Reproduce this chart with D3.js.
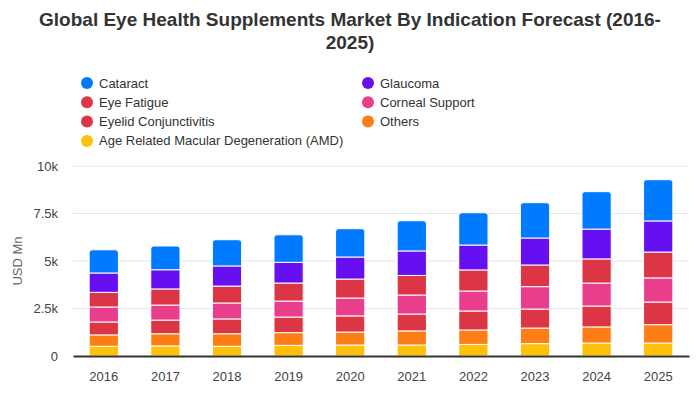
<!DOCTYPE html>
<html>
<head>
<meta charset="utf-8">
<script src="https://cdn.jsdelivr.net/npm/d3@7"></script>
<style>
  body { margin: 0; background: #fff; }
  svg { font-family: "Liberation Sans", Arial, sans-serif; }
</style>
</head>
<body>
<svg id="chart" width="700" height="400"></svg>
<script>
const years = ["2016","2017","2018","2019","2020","2021","2022","2023","2024","2025"];
// stacked bottom → top
const amd        = [0.51, 0.53, 0.51, 0.56, 0.58, 0.58, 0.61, 0.65, 0.68, 0.68];
const others     = [0.60, 0.64, 0.66, 0.67, 0.68, 0.74, 0.76, 0.82, 0.85, 0.97];
const eyelid     = [0.68, 0.72, 0.78, 0.82, 0.85, 0.89, 1.00, 1.00, 1.10, 1.19];
const corneal    = [0.79, 0.79, 0.84, 0.84, 0.94, 1.00, 1.05, 1.18, 1.21, 1.27];
const eyeFatigue = [0.77, 0.85, 0.89, 0.95, 1.00, 1.03, 1.11, 1.14, 1.27, 1.36];
const glaucoma   = [1.02, 1.01, 1.06, 1.09, 1.16, 1.29, 1.31, 1.42, 1.57, 1.64];
const cataract   = [1.22, 1.25, 1.38, 1.45, 1.49, 1.59, 1.70, 1.86, 1.97, 2.17];
const yTicks = [0, 2.5, 5, 7.5, 10];
const yTickLabels = ["0", "2.5k", "5k", "7.5k", "10k"];

const series = [
  {key: "amd", name: "Age Related Macular Degeneration (AMD)", color: "#ffc107", values: amd},
  {key: "others", name: "Others", color: "#fd7e14", values: others},
  {key: "eyelid", name: "Eyelid Conjunctivitis", color: "#dc3545", values: eyelid},
  {key: "corneal", name: "Corneal Support", color: "#e83e8c", values: corneal},
  {key: "eyeFatigue", name: "Eye Fatigue", color: "#dc3545", values: eyeFatigue},
  {key: "glaucoma", name: "Glaucoma", color: "#6610f2", values: glaucoma},
  {key: "cataract", name: "Cataract", color: "#007bff", values: cataract}
];
const legendOrder = [
  ["cataract", "glaucoma"],
  ["eyeFatigue", "corneal"],
  ["eyelid", "others"],
  ["amd"]
];

const svg = d3.select("#chart");
const margin = {left: 73, right: 11, top: 166, bottom: 44};
const W = 700, H = 400;

// Title
const title = svg.append("text").attr("x", 350).attr("text-anchor", "middle")
  .attr("font-size", 19).attr("font-weight", "bold").attr("fill", "#333");
title.append("tspan").attr("x", 350).attr("y", 26).text("Global Eye Health Supplements Market By Indication Forecast (2016-");
title.append("tspan").attr("x", 350).attr("y", 49).text("2025)");

// Legend
const byKey = Object.fromEntries(series.map(s => [s.key, s]));
const colX = [87, 368];
legendOrder.forEach((row, ri) => {
  row.forEach((k, ci) => {
    const s = byKey[k];
    const g = svg.append("g").attr("transform", `translate(${colX[ci]},${83 + ri * 19.3})`);
    g.append("circle").attr("r", 6).attr("fill", s.color);
    g.append("text").attr("x", 12).attr("y", 4.5).attr("font-size", 13).attr("fill", "#333").text(s.name);
  });
});

const x = d3.scaleBand().domain(years).range([margin.left, W - margin.right]).paddingInner(0.525).paddingOuter(0.2625);
const y = d3.scaleLinear().domain([0, 10]).range([H - margin.bottom, margin.top]);

// gridlines
svg.append("g").selectAll("line").data(yTicks.filter(d => d > 0)).join("line")
  .attr("x1", margin.left).attr("x2", W - margin.right)
  .attr("y1", d => y(d)).attr("y2", d => y(d))
  .attr("stroke", "#e6e6e6").attr("stroke-width", 1);

// y axis labels
const yAxis = d3.axisLeft(y).tickValues(yTicks).tickFormat((d, i) => yTickLabels[i]).tickSize(0).tickPadding(15);
const yg = svg.append("g").attr("transform", `translate(${margin.left},0)`).call(yAxis);
yg.select(".domain").remove();
yg.selectAll("text").attr("font-size", 13).attr("fill", "#444").attr("font-family", "Liberation Sans, Arial, sans-serif");

svg.append("text").attr("transform", `translate(22,${(y(0) + y(10)) / 2}) rotate(-90)`)
  .attr("text-anchor", "middle").attr("font-size", 13).attr("fill", "#666").text("USD Mn");

// stack
const table = years.map((yr, i) => {
  const o = {year: yr};
  series.forEach(s => o[s.key] = s.values[i]);
  return o;
});
const stack = d3.stack().keys(series.map(s => s.key))(table);

const bw = x.bandwidth();
stack.forEach((layer, li) => {
  const s = series[li];
  const isTop = li === stack.length - 1;
  svg.append("g").selectAll("path").data(layer).join("path")
    .attr("fill", s.color)
    .attr("stroke", "#fff").attr("stroke-width", 1)
    .attr("d", d => {
      const x0 = x(d.data.year), x1 = x0 + bw;
      const yb = y(d[0]), yt = y(d[1]);
      if (!isTop) return `M${x0},${yb}H${x1}V${yt}H${x0}Z`;
      const r = 3;
      return `M${x0},${yb}H${x1}V${yt + r}Q${x1},${yt} ${x1 - r},${yt}H${x0 + r}Q${x0},${yt} ${x0},${yt + r}Z`;
    });
});

// x axis
const xAxis = d3.axisBottom(x).tickSize(0).tickPadding(16);
const xg = svg.append("g").attr("transform", `translate(0,${y(0)})`).call(xAxis);
xg.select(".domain").attr("stroke", "#333").attr("stroke-width", 2);
xg.selectAll("text").attr("font-size", 13).attr("fill", "#444").attr("font-family", "Liberation Sans, Arial, sans-serif");
</script>
</body>
</html>
